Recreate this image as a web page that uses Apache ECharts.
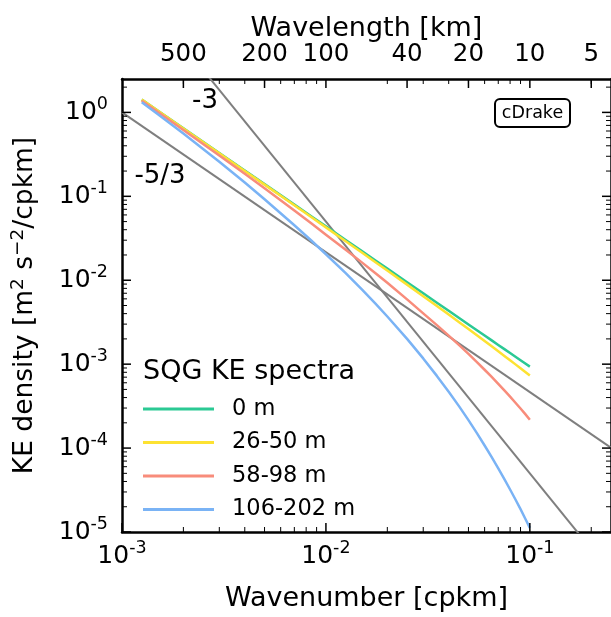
<!DOCTYPE html>
<html><head><meta charset="utf-8">
<script src="https://cdn.jsdelivr.net/npm/echarts@6/dist/echarts.min.js"></script>
<style>html,body{margin:0;padding:0;background:#fff;}#c{width:611px;height:617px;}</style>
</head><body><div id="c"></div>
<script>
// ---- data ----
const wavenumber = [0.00125, 0.0015, 0.002, 0.003, 0.004, 0.005, 0.007, 0.0085, 0.01, 0.0125, 0.015, 0.0175, 0.02, 0.025, 0.03, 0.035, 0.04, 0.045, 0.05, 0.055, 0.06, 0.065, 0.07, 0.075, 0.08, 0.085, 0.09, 0.095, 0.1];
const ke0m       = [1.419, 1.046, 0.647, 0.3285, 0.2030, 0.1398, 0.0796, 0.0576, 0.04387, 0.03021, 0.02227, 0.01721, 0.01377, 0.00948, 0.00699, 0.00540, 0.00432, 0.003548, 0.002975, 0.002536, 0.002193, 0.001919, 0.001695, 0.001510, 0.001356, 0.001225, 0.001114, 0.001017, 0.000934];
const ke26to50   = [1.419, 1.044, 0.6438, 0.3262, 0.2007, 0.1379, 0.0782, 0.05627, 0.04267, 0.02919, 0.02137, 0.01640, 0.01303, 0.00887, 0.00646, 0.00493, 0.003896, 0.003162, 0.002621, 0.002203, 0.001884, 0.001629, 0.001422, 0.001253, 0.001112, 0.000994, 0.000893, 0.000806, 0.000731];
const ke58to98   = [1.380, 1.012, 0.6183, 0.3069, 0.1854, 0.1247, 0.0679, 0.04740, 0.03489, 0.02307, 0.01633, 0.01213, 0.00932, 0.00592, 0.004027, 0.002916, 0.002188, 0.001684, 0.001324, 0.001058, 0.000858, 0.000704, 0.000583, 0.000487, 0.000410, 0.000347, 0.000296, 0.0002535, 0.000218];
const ke106to202 = [1.324, 0.952, 0.5597, 0.2585, 0.1461, 0.0923, 0.0452, 0.02953, 0.02042, 0.01214, 0.00777, 0.00526, 0.003698, 0.001999, 0.001171, 0.000725, 0.000469, 0.0003138, 0.0002151, 0.0001506, 0.0001074, 0.0000779, 0.0000573, 0.0000426, 0.0000321, 0.0000244, 0.0000187, 0.0000144, 0.0000112];
const seriesNames = ['0 m', '26-50 m', '58-98 m', '106-202 m'];
const seriesColors = ['#2bc994', '#fde232', '#f88c7b', '#7ab3f5'];
// reference slopes (end points)
const refK = [0.001, 0.3];
const refMinus53 = [1.0, 0.0000744];
const refMinus3 = [50, 0.00000185];
// ticks
const xMin = 0.001, xMax = 0.25, yMin = 0.00001, yMax = 2.5;
const xMajorTicks = [0.001, 0.01, 0.1];
const xMajorExps = ['-3', '-2', '-1'];
const xMinorTicks = [0.002,0.003,0.004,0.005,0.006,0.007,0.008,0.009,0.02,0.03,0.04,0.05,0.06,0.07,0.08,0.09,0.2];
const yMajorTicks = [0.00001, 0.0001, 0.001, 0.01, 0.1, 1];
const yMajorExps = ['-5', '-4', '-3', '-2', '-1', '0'];
const yMinorTicks = [];
[0.00001, 0.0001, 0.001, 0.01, 0.1, 1].forEach(d => [2,3,4,5,6,7,8,9].forEach(m => { if (d*m <= yMax) yMinorTicks.push(+(d*m).toPrecision(3)); }));
const topWavelengths = [500, 200, 100, 40, 20, 10, 5];

const FONT = 'DejaVu Sans';
const MAJOR = 9, MINOR = 5;

function supRich(size) {
  return {
    b: {fontSize: size, lineHeight: 34, fontFamily: FONT, fill: '#000', verticalAlign: 'middle'},
    s: {fontSize: size * 0.7, lineHeight: 15, fontFamily: FONT, fill: '#000', verticalAlign: 'top'}
  };
}

function renderTicks(params, api) {
  const cs = params.coordSys;
  const L = cs.x, R = cs.x + cs.width, T = cs.y, B = cs.y + cs.height;
  const kids = [];
  const line = (x1, y1, x2, y2, w) => kids.push({type: 'line', shape: {x1, y1, x2, y2}, style: {stroke: '#000', lineWidth: w}});
  const px = k => api.coord([k, yMin])[0];
  const py = v => api.coord([xMin, v])[1];
  xMinorTicks.forEach(k => { const x = px(k); line(x, B, x, B - MINOR, 1); line(x, T, x, T + MINOR, 1); });
  xMajorTicks.forEach(k => { const x = px(k); line(x, B, x, B - MAJOR, 1.5); });
  topWavelengths.forEach(w => { const x = px(1 / w); line(x, T, x, T + MAJOR, 1.5); });
  yMinorTicks.forEach(v => { const y = py(v); line(L, y, L + MINOR, y, 1); line(R, y, R - MINOR, y, 1); });
  yMajorTicks.forEach(v => { const y = py(v); line(L, y, L + MAJOR, y, 1.5); line(R, y, R - MAJOR, y, 1.5); });
  xMajorTicks.forEach((k, i) => kids.push({type: 'text', x: px(k), y: B + 24,
    style: {text: '{b|10}{s|' + xMajorExps[i] + '}', rich: supRich(25), align: 'center', verticalAlign: 'middle', fill: '#000', fontFamily: FONT, fontSize: 25}}));
  yMajorTicks.forEach((v, i) => kids.push({type: 'text', x: L - 14, y: py(v),
    style: {text: '{b|10}{s|' + yMajorExps[i] + '}', rich: supRich(25), align: 'right', verticalAlign: 'middle', fill: '#000', fontFamily: FONT, fontSize: 25}}));
  topWavelengths.forEach(w => kids.push({type: 'text', x: px(1 / w), y: T - 24,
    style: {text: String(w), align: 'center', verticalAlign: 'middle', fill: '#000', fontFamily: FONT, fontSize: 24.5}}));
  return {type: 'group', children: kids};
}

const axisLine = {show: true, lineStyle: {color: '#000', width: 2.5}};
const logAxis = (extra) => Object.assign({type: 'log', logBase: 10, axisLine, axisTick: {show: false}, axisLabel: {show: false}, splitLine: {show: false}}, extra);

const curves = [ke0m, ke26to50, ke58to98, ke106to202];
const series = [
  {type: 'line', name: 'ref -5/3', data: refK.map((k, i) => [k, refMinus53[i]]), symbol: 'none', lineStyle: {color: '#7f7f7f', width: 2}, clip: true, silent: true, z: 2},
  {type: 'line', name: 'ref -3', data: refK.map((k, i) => [k, refMinus3[i]]), symbol: 'none', lineStyle: {color: '#7f7f7f', width: 2}, clip: true, silent: true, z: 2}
];
curves.forEach((c, j) => series.push({
  type: 'line', name: seriesNames[j], data: wavenumber.map((k, i) => [k, c[i]]),
  symbol: 'none', smooth: false, color: seriesColors[j],
  lineStyle: {color: seriesColors[j], width: 2.5, join: 'round'}, itemStyle: {color: seriesColors[j]}, clip: true, z: 3
}));
series.push({type: 'custom', name: 'ticks', coordinateSystem: 'cartesian2d', xAxisIndex: 0, yAxisIndex: 0,
  data: [[0.01, 0.01]], renderItem: renderTicks, silent: true, z: 10, clip: false});

const chart = echarts.init(document.getElementById('c'), null, {renderer: 'canvas'});
chart.setOption({
  animation: false,
  backgroundColor: '#fff',
  textStyle: {fontFamily: FONT},
  grid: {left: 122, top: 79, width: 491, height: 461, containLabel: false},
  xAxis: [
    logAxis({min: xMin, max: xMax, position: 'bottom', name: 'Wavenumber [cpkm]', nameLocation: 'middle', nameGap: 53,
      nameTextStyle: {fontSize: 27, color: '#000', fontFamily: FONT}}),
    logAxis({min: xMin, max: xMax, position: 'top', name: 'Wavelength [km]', nameLocation: 'middle', nameGap: 37,
      nameTextStyle: {fontSize: 27, color: '#000', fontFamily: FONT}})
  ],
  yAxis: [
    logAxis({min: yMin, max: yMax, position: 'left', name: '{a|KE density [m}{s|2}{a| s}{s|\u22122}{a|/cpkm]}', nameLocation: 'middle', nameGap: 81,
      nameTextStyle: {fontSize: 26.5, color: '#000', fontFamily: FONT, rich: {
        a: {fontSize: 26.5, color: '#000', fontFamily: FONT, lineHeight: 32, verticalAlign: 'middle'},
        s: {fontSize: 18.5, color: '#000', fontFamily: FONT, lineHeight: 15, verticalAlign: 'top'}}}}),
    logAxis({min: yMin, max: yMax, position: 'right'})
  ],
  legend: {
    data: seriesNames.map(n => ({name: n, icon: 'rect'})),
    orient: 'vertical', left: 143, top: 396, padding: 0, itemWidth: 71, itemHeight: 3, itemGap: 7.5,
    textStyle: {fontSize: 22.5, color: '#000', fontFamily: FONT, lineHeight: 26, padding: [0, 0, 0, 13]},
    selectedMode: false
  },
  graphic: [
    {type: 'text', x: 143, y: 372, style: {text: 'SQG KE spectra', fontSize: 27, fontFamily: FONT, fill: '#000', verticalAlign: 'middle'}, z: 20},
    {type: 'text', x: 205, y: 101, style: {text: '-3', fontSize: 26, fontFamily: FONT, fill: '#000', align: 'center', verticalAlign: 'middle'}, z: 20},
    {type: 'text', x: 160, y: 176, style: {text: '-5/3', fontSize: 26, fontFamily: FONT, fill: '#000', align: 'center', verticalAlign: 'middle'}, z: 20},
    {type: 'rect', shape: {x: 495, y: 99, width: 75, height: 28, r: 5}, style: {fill: '#fff', stroke: '#000', lineWidth: 2}, z: 20},
    {type: 'text', x: 532.5, y: 113, style: {text: 'cDrake', fontSize: 17.5, fontFamily: FONT, fill: '#000', align: 'center', verticalAlign: 'middle'}, z: 21}
  ],
  series
});
</script></body></html>
